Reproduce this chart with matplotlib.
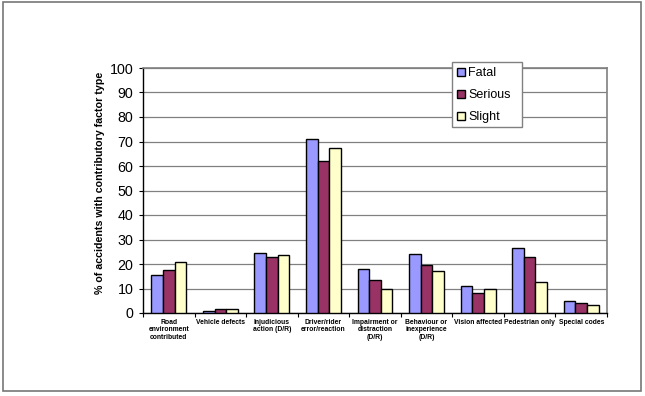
import matplotlib
matplotlib.use("Agg")
import matplotlib.pyplot as plt
import numpy as np
from matplotlib.patches import Rectangle

categories = ["Road\nenvironment\ncontributed", "Vehicle defects", "Injudicious\naction (D/R)",
              "Driver/rider\nerror/reaction", "Impairment or\ndistraction\n(D/R)",
              "Behaviour or\ninexperience\n(D/R)", "Vision affected", "Pedestrian only", "Special codes"]
fatal = [15.4, 0.7, 24.4, 70.9, 17.9, 24.2, 11.0, 26.4, 5.1]
serious = [17.5, 1.6, 22.8, 62.2, 13.5, 19.6, 8.3, 22.8, 3.9]
slight = [20.7, 1.6, 23.6, 67.3, 9.9, 17.2, 9.9, 12.8, 3.2]
series_names = ["Fatal", "Serious", "Slight"]
colors = ["#9999FF", "#993366", "#FFFFCC"]
yticks = [0, 10, 20, 30, 40, 50, 60, 70, 80, 90, 100]

plt.rcParams['font.family'] = ['Liberation Sans', 'DejaVu Sans']

W, H = 645, 396
fig = plt.figure(figsize=(W/100, H/100), dpi=100)

# outer border
fig.patches.append(Rectangle((3/W, 1 - 391/H), (641-3)/W, (391-2)/H, transform=fig.transFigure,
                             fill=False, edgecolor="#777777", linewidth=1.2))

left, right, top, bottom = 143, 607, 68, 313
ax = fig.add_axes([left/W, 1 - bottom/H, (right-left)/W, (bottom-top)/H])

x = np.arange(len(categories))
bw = 0.225
handles = []
for i, (vals, c, name) in enumerate(zip([fatal, serious, slight], colors, series_names)):
    b = ax.bar(x + (i-1)*bw, vals, width=bw, color=c, edgecolor="black", linewidth=1.0,
               label=name, zorder=3)
    handles.append(b)

ax.set_xlim(-0.5, len(categories)-0.5)
ax.set_ylim(0, 100)
ax.set_yticks(yticks)
ax.set_yticklabels([str(t) for t in yticks], fontsize=10.3)
ax.yaxis.grid(True, color="#808080", linewidth=0.9, zorder=0)
ax.set_axisbelow(True)

ax.set_xticks(np.arange(len(categories)+1) - 0.5, minor=False)
ax.set_xticklabels([])
ax.set_xticks(x, minor=True)
ax.set_xticklabels(categories, minor=True, fontsize=4.9, fontweight="bold", linespacing=1.15)
ax.tick_params(axis="x", which="minor", length=0, pad=4)
ax.tick_params(axis="x", which="major", length=3, width=0.8, direction="out")
ax.tick_params(axis="y", length=3, width=0.8, direction="out", pad=4)

for s in ["left", "bottom"]:
    ax.spines[s].set_color("black")
    ax.spines[s].set_linewidth(1.0)
for s in ["top", "right"]:
    ax.spines[s].set_color("#808080")
    ax.spines[s].set_linewidth(1.2)

ax.set_ylabel("% of accidents with contributory factor type", fontsize=7.7, fontweight="bold",
              va="center")
ax.yaxis.set_label_coords(-0.093, 0.533)

# legend frame drawn separately (wider than content, as in the reference)
fig.patches.append(Rectangle((451.7/W, 1 - 126.7/H), 70/W, 65/H, transform=fig.transFigure,
                             facecolor="white", edgecolor="#808080", linewidth=1.0, zorder=4))
leg = fig.legend(handles=handles, labels=series_names, loc="upper left",
                 bbox_to_anchor=(451.7/W, 1 - 61.7/H), fontsize=9, frameon=False,
                 handlelength=0.6, handleheight=0.6, handletextpad=0.25, labelspacing=0.8,
                 borderpad=0.45, borderaxespad=0)
leg.set_zorder(5)

fig.savefig("out.png", dpi=100)
